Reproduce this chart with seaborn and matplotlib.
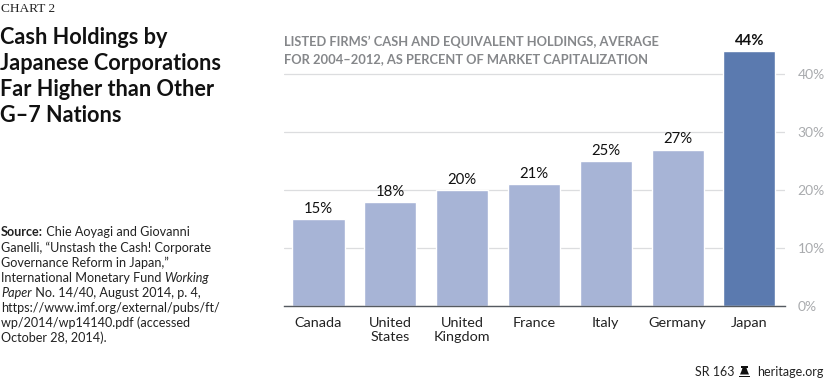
import matplotlib
matplotlib.use('Agg')
import matplotlib.pyplot as plt
from matplotlib.patches import Polygon, Rectangle
import pandas as pd
import seaborn as sns

countries = ['Canada', 'United\nStates', 'United\nKingdom', 'France', 'Italy', 'Germany', 'Japan']
holdings = [15, 18, 20, 21, 25, 27, 44]
bar_colors = ['#A7B4D6', '#A7B4D6', '#A7B4D6', '#A7B4D6', '#A7B4D6', '#A7B4D6', '#5B7AAF']
y_ticks = [0, 10, 20, 30, 40]

W, H = 825, 381


def fx(x):
    return x / W


def fy(y):
    return 1 - y / H


sns.set_theme(style='white')
plt.rcParams['font.family'] = ['Lato', 'DejaVu Sans']

df = pd.DataFrame({'country': countries, 'holdings': holdings})

fig = plt.figure(figsize=(W / 100, H / 100), dpi=100)
ax = fig.add_axes([fx(284), fy(306.3), (785 - 284) / W, (306.3 - 51) / H])

sns.barplot(data=df, x='country', y='holdings', hue='country', palette=bar_colors,
            width=0.725, legend=False, saturation=1, ax=ax, zorder=3)
ax.set_xlim(-0.48, 6.495)
ax.set_ylim(0, 44)
ax.set_xlabel('')
ax.set_ylabel('')

sns.despine(ax=ax, left=True, top=True, right=True)
ax.spines['bottom'].set_color('#555a60')
ax.spines['bottom'].set_linewidth(1)
ax.spines['bottom'].set_zorder(5)

ax.set_yticks(y_ticks)
ax.set_yticklabels([f'{t}%' for t in y_ticks])
ax.yaxis.tick_right()
ax.tick_params(axis='y', length=0, pad=9, labelsize=10, labelcolor='#a9abae')
ax.tick_params(axis='x', length=0, pad=7.5, labelsize=10.4, labelcolor='#222222')
for lab in ax.get_xticklabels():
    lab.set_linespacing(1.2)
ax.grid(axis='y', color='#dcdddf', linewidth=0.9, zorder=0)
ax.set_axisbelow(True)

# value labels, Japan in bold
for i, v in enumerate(holdings):
    ax.text(i, v + 0.55, f'{v}%', ha='center', va='bottom', fontsize=10.7,
            color='#111111', fontweight='bold' if i == 6 else 'normal')

# left column
fig.text(fx(1), fy(9), 'CHART 2', fontsize=9.6, family='Liberation Serif', color='#222222', va='center')
title_lines = ['Cash Holdings by', 'Japanese Corporations', 'Far Higher than Other', 'G\u20137 Nations']
for i, line in enumerate(title_lines):
    fig.text(fx(0), fy(37 + 26 * i), line, fontsize=15.6, fontweight='bold', color='#111111', va='center')

# chart subtitle
subtitle_lines = ['LISTED FIRMS\u2019 CASH AND EQUIVALENT HOLDINGS, AVERAGE',
                  'FOR 2004\u20132012, AS PERCENT OF MARKET CAPITALIZATION']
for i, line in enumerate(subtitle_lines):
    fig.text(fx(284), fy(42 + 17 * i), line, fontsize=9.3, fontweight='bold', color='#85878a', va='center')

# source note, mixes bold and italic so each run is placed after the last
source_lines = [
    [('Source:', 'bold', 'normal'), (' Chie Aoyagi and Giovanni', 'normal', 'normal')],
    [('Ganelli, \u201cUnstash the Cash! Corporate', 'normal', 'normal')],
    [('Governance Reform in Japan,\u201d', 'normal', 'normal')],
    [('International Monetary Fund ', 'normal', 'normal'), ('Working', 'normal', 'italic')],
    [('Paper', 'normal', 'italic'), (' No. 14/40, August 2014, p. 4,', 'normal', 'normal')],
    [('https://www.imf.org/external/pubs/ft/', 'normal', 'normal')],
    [('wp/2014/wp14140.pdf (accessed', 'normal', 'normal')],
    [('October 28, 2014).', 'normal', 'normal')],
]
renderer = fig.canvas.get_renderer()
for i, runs in enumerate(source_lines):
    x = 1.0
    for text, weight, style in runs:
        t = fig.text(fx(x), fy(232.5 + 15.1 * i), text.replace(' ', '\u00a0'), fontsize=9.05,
                     fontweight=weight, fontstyle=style, color='#222222', va='center')
        x = t.get_window_extent(renderer).x1

# footer
fig.text(fx(695), fy(372), 'SR 163', fontsize=9, color='#222222', va='center')
fig.text(fx(824), fy(372), 'heritage.org', fontsize=9, color='#222222', va='center', ha='right')
# small bell logo
bell = [(fx(x), fy(y)) for x, y in [(740, 374.5), (741.5, 371), (742.5, 368), (746.5, 368), (747.5, 371), (749, 374.5)]]
fig.add_artist(Polygon(bell, closed=True, transform=fig.transFigure, color='#111111', lw=0))
fig.add_artist(Rectangle((fx(739), fy(377)), 11 / W, 1.5 / H, transform=fig.transFigure, color='#111111', lw=0))
fig.add_artist(Rectangle((fx(741), fy(367.5)), 7 / W, 1.5 / H, transform=fig.transFigure, color='#111111', lw=0))

fig.savefig('out.png', dpi=100)
